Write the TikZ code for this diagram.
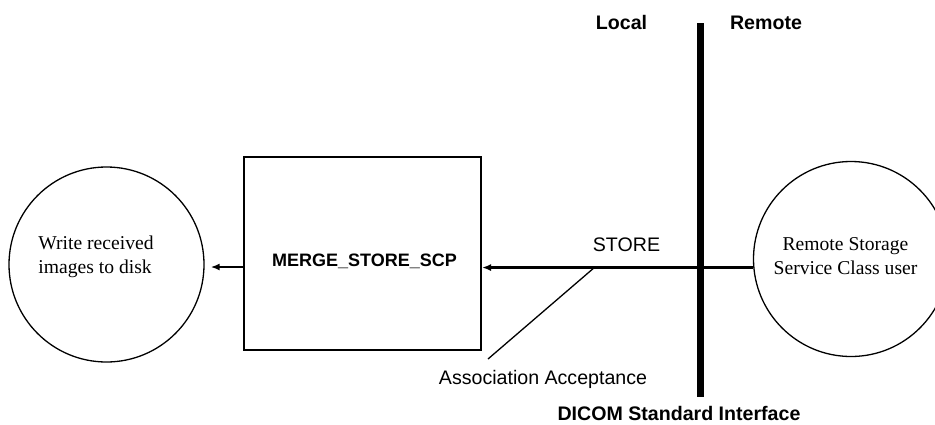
\documentclass[tikz,border=0pt]{standalone}
\usepackage{fontspec}
\setmainfont{Liberation Serif}
\setsansfont{Liberation Sans}
\usepackage{tikz}
\usetikzlibrary{arrows.meta,calc,positioning}
\tikzset{%
  proc/.style={draw, circle, line width=1.3pt, minimum size=195pt, inner sep=0pt},
  procbox/.style={draw, rectangle, line width=2pt, minimum width=237pt, minimum height=193pt},
  labtxt/.style={font=\sffamily\fontsize{19.6}{23}\selectfont, inner sep=0pt},
  boldtxt/.style={font=\sffamily\bfseries\fontsize{19.6}{23}\selectfont, inner sep=0pt},
  circtxt/.style={font=\rmfamily\fontsize{19.6}{23.5}\selectfont, inner sep=0pt},
  flow/.style={line width=2.2pt, -{Latex[length=9pt,width=7pt]}}
}

\begin{document}
\begin{tikzpicture}[x=1pt,y=-1pt]
\useasboundingbox (0,0) rectangle (935,424);

% local side
\node[proc] (wrdisk) at (106.5,264.5) {};
\node[circtxt, align=left] (wrtext) at (96,257) {Write received\\images to disk};
\node[procbox] (mergebox) at (362.5,253.5) {};
\node[boldtxt, font=\sffamily\bfseries\fontsize{18}{22}\selectfont] (mergetxt) at (364.5,261.5) {MERGE\_STORE\_SCP};

% remote side
\node[proc] (remotesc) at (851,259) {};
\node[circtxt, align=center] (remotetxt) at (845.5,256) {Remote Storage\\Service Class user};

% interface bar
\coordinate (ifacetop) at (700,23);
\coordinate (ifacebot) at (700,397);
\draw[line width=7pt] (ifacetop) -- (ifacebot);
\node[boldtxt] (local) at (621.5,22.5) {Local};
\node[boldtxt] (remote) at (766,22.5) {Remote};
\node[boldtxt] (iface) at (679,413.5) {DICOM Standard Interface};

% messages
\draw[flow] (remotesc.185) -- (remotesc.185 -| mergebox.east);
\node[labtxt] (store) at (626.5,245) {STORE};
\draw[flow, shorten >=6pt] (mergebox.west |- 0,267) -- (wrdisk.east |- 0,267);

\coordinate (accfoot) at (595,267);
\coordinate (acctail) at (488,359);
\draw[line width=1.3pt] (accfoot) -- (acctail);
\node[labtxt] (accept) at (543,379) {Association Acceptance};

\end{tikzpicture}
\end{document}
